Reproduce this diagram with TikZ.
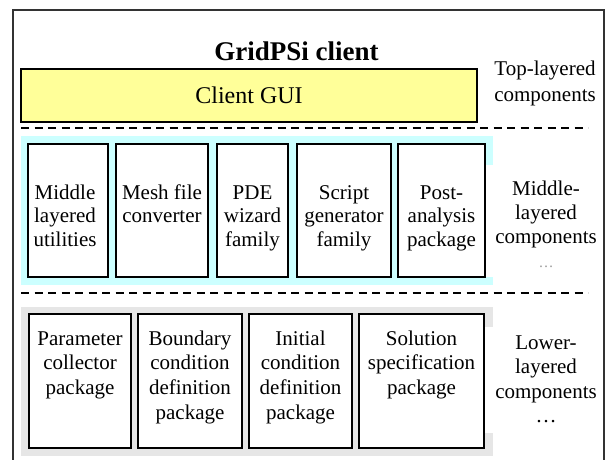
\documentclass[tikz,border=0pt]{standalone}
\usepackage{fontspec}
\setmainfont{Liberation Serif}
\usetikzlibrary{fit}
\definecolor{guiyellow}{HTML}{FFFF99}
\definecolor{midcyan}{HTML}{CCFFFF}
\definecolor{lowgray}{HTML}{E6E6E6}
\begin{document}
\begin{tikzpicture}[x=1pt,y=-1pt,
  layerbg/.style={draw=none, inner sep=0pt},
  compbox/.style={draw=black, line width=2pt, fill=white, inner sep=0pt},
  midtxt/.style={inner sep=0pt, align=center, font=\fontsize{21}{23.7}\selectfont, anchor=north},
  lowtxt/.style={inner sep=0pt, align=center, font=\fontsize{21}{24.7}\selectfont, anchor=north},
  lbltxt/.style={inner sep=0pt, align=center, anchor=north},
  patch/.style={fill=white, draw=none, inner sep=0pt},
  sepline/.style={line width=2pt, dash pattern=on 8pt off 5.5pt}]
\useasboundingbox (0,0) rectangle (605,460);
\fill[white] (0,0) rectangle (605,460);

% layer backgrounds
\node[layerbg, fill=midcyan, fit={(21,136) (493,285)}] (midbg) {};
\node[layerbg, fill=lowgray, fit={(21,307) (493,456)}] (lowbg) {};

% title and top layer
\node[inner sep=0pt, anchor=base, font=\fontsize{27}{30}\selectfont\bfseries] (title) at (296.5,60) {GridPSi client};
\node[draw=black, line width=2pt, fill=guiyellow, inner sep=0pt, minimum width=456pt, minimum height=53pt, font=\fontsize{24}{28}\selectfont] (gui) at (249,95.5) {Client GUI};
\node[lbltxt, font=\fontsize{21}{26}\selectfont] (toplbl) at (545,57.5) {\strut Top-layered\\components};

% separators
\coordinate (d1a) at (21,128);
\coordinate (d1b) at (588,128);
\coordinate (d2a) at (21,293);
\coordinate (d2b) at (588,293);
\draw[sepline] (d1a) -- (d1b);
\draw[sepline] (d2a) -- (d2b);

% middle layer boxes
\node[compbox, fit={(28,144) (108,277)}] (m1) {};
\node[compbox, fit={(116,144) (208,277)}] (m2) {};
\node[compbox, fit={(217,144) (288,277)}] (m3) {};
\node[compbox, fit={(297,144) (391,277)}] (m4) {};
\node[compbox, fit={(398,144) (485,277)}] (m5) {};
\node[midtxt] (m1t) at (65,182.4) {\strut Middle\\layered\\utilities};
\node[midtxt] (m2t) at (m2.north |- 0,182.4) {\strut Mesh file\\converter};
\node[midtxt] (m3t) at (m3.north |- 0,182.4) {\strut PDE\\wizard\\family};
\node[midtxt] (m4t) at (m4.north |- 0,182.4) {\strut Script\\generator\\family};
\node[midtxt] (m5t) at (m5.north |- 0,182.4) {\strut Post-\\analysis\\package};

\node[patch, fit={(486,165) (602,277)}] (midpatch) {};
\node[lbltxt, font=\fontsize{21}{24}\selectfont] (midlbl) at (546,178.9) {\strut Middle-\\layered\\components\\{\color{black!40}\fontsize{15}{26}\selectfont\dots}};

% lower layer boxes
\node[compbox, fit={(29,314) (131,448)}] (l1) {};
\node[compbox, fit={(138,314) (242,448)}] (l2) {};
\node[compbox, fit={(249,314) (352,448)}] (l3) {};
\node[compbox, fit={(359,314) (484,448)}] (l4) {};
\node[lowtxt] (l1t) at (l1.north |- 0,327.7) {\strut Parameter\\collector\\package};
\node[lowtxt] (l2t) at (l2.north |- 0,327.7) {\strut Boundary\\condition\\definition\\package};
\node[lowtxt] (l3t) at (l3.north |- 0,327.7) {\strut Initial\\condition\\definition\\package};
\node[lowtxt] (l4t) at (l4.north |- 0,327.7) {\strut Solution\\specification\\package};

\node[patch, fit={(485,327) (602,433)}] (lowpatch) {};
\node[lbltxt, font=\fontsize{21}{24.5}\selectfont] (lowlbl) at (546,331.85) {\strut Lower-\\layered\\components\\\dots};

% outer frame
\node[draw=black!80, line width=1.5pt, inner sep=0pt, fit={(13,10) (604,480)}] (frame) {};
\end{tikzpicture}
\end{document}
